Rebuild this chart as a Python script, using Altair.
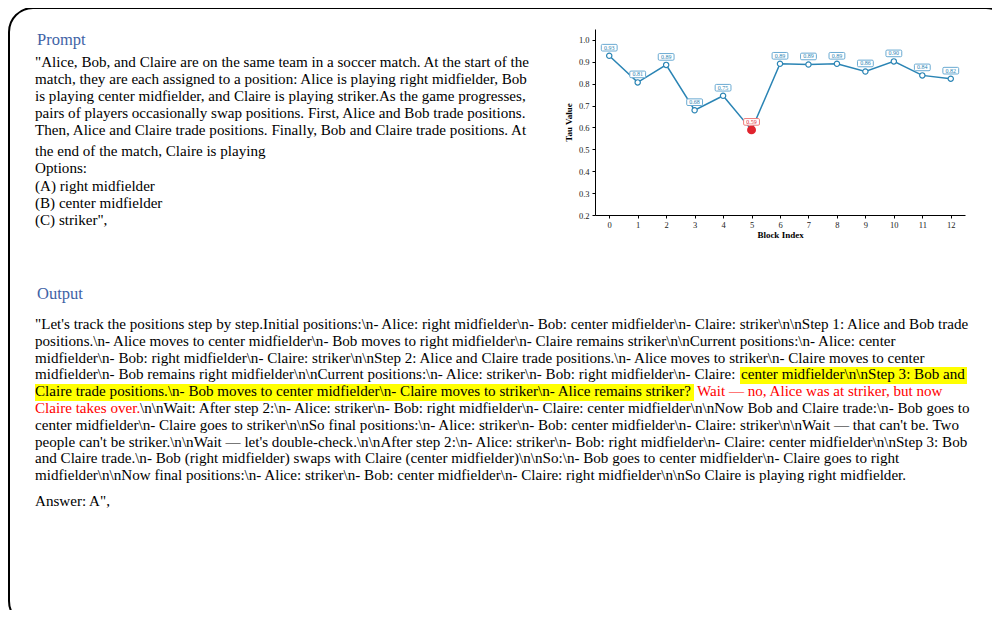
import altair as alt
import pandas as pd

# ---------------- data ----------------
block_index = list(range(13))
tau_values = [0.928, 0.806, 0.886, 0.679, 0.745, 0.589, 0.891, 0.888, 0.891, 0.856, 0.902, 0.838, 0.823]
tau_labels = ["0.93", "0.81", "0.89", "0.68", "0.75", "0.59", "0.89", "0.89", "0.89", "0.86", "0.90", "0.84", "0.82"]
min_block = 5
y_ticks = [0.2, 0.3, 0.4, 0.5, 0.6, 0.7, 0.8, 0.9, 1.0]

prompt_lines = [
    "\"Alice, Bob, and Claire are on the same team in a soccer match. At the start of the",
    "match, they are each assigned to a position: Alice is playing right midfielder, Bob",
    "is playing center midfielder, and Claire is playing striker.As the game progresses,",
    "pairs of players occasionally swap positions. First, Alice and Bob trade positions.",
    "Then, Alice and Claire trade positions. Finally, Bob and Claire trade positions. At",
    "the end of the match, Claire is playing",
    "Options:",
    "(A) right midfielder",
    "(B) center midfielder",
    "(C) striker\",",
]

# output segments: (line index, x start, text, kind)  kind: n=normal, h=highlight, r=red
output_segments = [
    (0, 35, "\"Let's track the positions step by step.Initial positions:\\n- Alice: right midfielder\\n- Bob: center midfielder\\n- Claire: striker\\n\\nStep 1: Alice and Bob trade", "n"),
    (1, 35, "positions.\\n- Alice moves to center midfielder\\n- Bob moves to right midfielder\\n- Claire remains striker\\n\\nCurrent positions:\\n- Alice: center", "n"),
    (2, 35, "midfielder\\n- Bob: right midfielder\\n- Claire: striker\\n\\nStep 2: Alice and Claire trade positions.\\n- Alice moves to striker\\n- Claire moves to center", "n"),
    (3, 35, "midfielder\\n- Bob remains right midfielder\\n\\nCurrent positions:\\n- Alice: striker\\n- Bob: right midfielder\\n- Claire:", "n"),
    (3, 741, "center midfielder\\n\\nStep 3: Bob and", "h"),
    (4, 35, "Claire trade positions.\\n- Bob moves to center midfielder\\n- Claire moves to striker\\n- Alice remains striker?", "h"),
    (4, 697, "Wait \u2014 no, Alice was at striker, but now", "r"),
    (5, 35, "Claire takes over.", "r"),
    (5, 140, "\\n\\nWait: After step 2:\\n- Alice: striker\\n- Bob: right midfielder\\n- Claire: center midfielder\\n\\nNow Bob and Claire trade:\\n- Bob goes to", "n"),
    (6, 35, "center midfielder\\n- Claire goes to striker\\n\\nSo final positions:\\n- Alice: striker\\n- Bob: center midfielder\\n- Claire: striker\\n\\nWait \u2014 that can't be. Two", "n"),
    (7, 35, "people can't be striker.\\n\\nWait \u2014 let's double-check.\\n\\nAfter step 2:\\n- Alice: striker\\n- Bob: right midfielder\\n- Claire: center midfielder\\n\\nStep 3: Bob", "n"),
    (8, 35, "and Claire trade.\\n- Bob (right midfielder) swaps with Claire (center midfielder)\\n\\nSo:\\n- Bob goes to center midfielder\\n- Claire goes to right", "n"),
    (9, 35, "midfielder\\n\\nNow final positions:\\n- Alice: striker\\n- Bob: center midfielder\\n- Claire: right midfielder\\n\\nSo Claire is playing right midfielder.", "n"),
]
answer_text = "Answer: A\","

# ---------------- layout (page pixels) ----------------
PX0, PY0 = 595, 29          # plot origin on page
W, H = 370, 186             # plot area
def px(x): return x - PX0
def py(y): return y - PY0

FONT = "Liberation Serif"
BLUE_HEAD = "#3f63a6"
LINE_BLUE = "#2a84b4"
RED = "#ff0000"
BODY = 15.1

prompt_baselines = [67, 84, 101, 118, 135, 156, 173, 191, 208, 225]
out_base0, out_step = 329, 16.8

texts = []
texts.append(dict(t="Prompt", x=px(37), y=py(45), c=BLUE_HEAD, s=16.5))
texts.append(dict(t="Output", x=px(37), y=py(299), c=BLUE_HEAD, s=16.5))
for line, b in zip(prompt_lines, prompt_baselines):
    texts.append(dict(t=line, x=px(35), y=py(b), c="#000000", s=BODY))
for li, x0, t, kind in output_segments:
    b = out_base0 + li * out_step
    col = RED if kind == "r" else "#000000"
    texts.append(dict(t=t, x=px(x0), y=py(b), c=col, s=BODY))
texts.append(dict(t=answer_text, x=px(35), y=py(506), c="#000000", s=BODY))

hl = [dict(x=px(740), x2=px(967), y=py(367), y2=py(384)),
      dict(x=px(35), x2=px(694), y=py(384), y2=py(401))]

text_df = pd.DataFrame(texts)
hl_df = pd.DataFrame(hl)

df = pd.DataFrame({"block": block_index, "tau": tau_values, "label": tau_labels})
df["is_min"] = df["block"] == min_block

xs = alt.Scale(domain=[-0.5, 12.5], nice=False, zero=False)
ys = alt.Scale(domain=[0.2, 1.05], nice=False, zero=False)

axis_common = dict(labelFont=FONT, titleFont=FONT, labelFontSize=8.5, titleFontSize=9,
                   titleFontWeight="bold", domainColor="#000000", domainWidth=1,
                   tickColor="#000000", tickSize=3, labelColor="#222222",
                   titleColor="#000000", grid=False)

x_enc = alt.X("block:Q", scale=xs,
              axis=alt.Axis(values=block_index, format="d", title="Block Index",
                            titlePadding=2, labelPadding=2, **axis_common))
y_enc = alt.Y("tau:Q", scale=ys,
              axis=alt.Axis(values=y_ticks, format=".1f", title="Tau Value",
                            titlePadding=5, labelPadding=3, **axis_common))

border = alt.Chart(alt.Data(values=[{}])).mark_rect(
    filled=False, stroke="#000000", strokeWidth=2, cornerRadius=24
).encode(x=alt.value(px(9)), x2=alt.value(px(1010)), y=alt.value(py(8)), y2=alt.value(py(625)))

highlight = alt.Chart(hl_df).mark_rect(fill="#ffff00").encode(
    x=alt.X("x:Q", scale=None), x2="x2:Q", y=alt.Y("y:Q", scale=None), y2="y2:Q")

text_layer = alt.Chart(text_df).mark_text(
    font=FONT, align="left", baseline="alphabetic"
).encode(
    x=alt.X("x:Q", scale=None), y=alt.Y("y:Q", scale=None),
    text="t:N", color=alt.Color("c:N", scale=None), size=alt.Size("s:Q", scale=None))

line = alt.Chart(df).mark_line(color=LINE_BLUE, strokeWidth=1.5).encode(x=x_enc, y=y_enc)

pts = alt.Chart(df).transform_filter("!datum.is_min").mark_point(
    shape="circle", filled=True, fill="white", stroke=LINE_BLUE, strokeWidth=1.2, size=28, opacity=1
).encode(x=x_enc, y=y_enc)

min_pt = alt.Chart(df).transform_filter("datum.is_min").mark_point(
    shape="circle", filled=True, fill="#e0242e", stroke="#e0242e", size=48, opacity=1
).encode(x=x_enc, y=y_enc)

box_path = "M-0.85,-0.42 L0.85,-0.42 Q1,-0.42 1,-0.27 L1,0.27 Q1,0.42 0.85,0.42 L-0.85,0.42 Q-1,0.42 -1,0.27 L-1,-0.27 Q-1,-0.42 -0.85,-0.42 Z"

boxes = alt.Chart(df).mark_point(
    shape=box_path, filled=True, fill="white", strokeWidth=1.0, size=250, opacity=1, yOffset=-8
).encode(x=x_enc, y=y_enc,
         stroke=alt.condition("datum.is_min", alt.value("#f07a7a"), alt.value("#6aaad2")))

labels = alt.Chart(df).mark_text(
    font=FONT, fontSize=6, baseline="middle", align="center", yOffset=-8
).encode(x=x_enc, y=y_enc, text="label:N",
         color=alt.condition("datum.is_min", alt.value("#e0242e"), alt.value("#2a84b4")))

chart = alt.layer(border, highlight, text_layer, line, pts, min_pt, boxes, labels).properties(
    width=W, height=H,
    autosize=alt.AutoSizeParams(type="none"),
    padding={"left": PX0 - 8, "top": PY0 - 8, "right": 1000 - 8 - (PX0 + W), "bottom": 618 - 8 - (PY0 + H)},
    background="white",
).configure_view(stroke=None)

chart.save("out.html", embed_options={"renderer": "svg", "actions": False})
